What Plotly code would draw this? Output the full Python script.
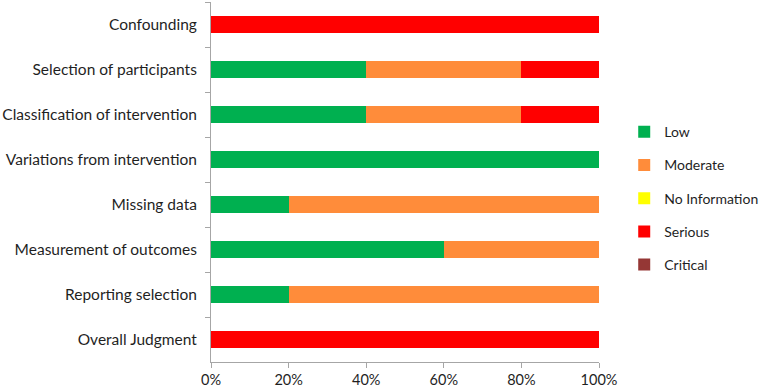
import plotly.graph_objects as go

categories = ["Confounding", "Selection of participants", "Classification of intervention",
              "Variations from intervention", "Missing data", "Measurement of outcomes",
              "Reporting selection", "Overall Judgment"]
low = [0, 40, 40, 100, 20, 60, 20, 0]
moderate = [0, 40, 40, 0, 80, 40, 80, 0]
no_info = [0, 0, 0, 0, 0, 0, 0, 0]
serious = [100, 20, 20, 0, 0, 0, 0, 100]
critical = [0, 0, 0, 0, 0, 0, 0, 0]
x_ticks = [0, 20, 40, 60, 80, 100]
x_tick_labels = ["0%", "20%", "40%", "60%", "80%", "100%"]

series = [("Low", low, "#00B050"), ("Moderate", moderate, "#FF8C3A"),
          ("No Information", no_info, "#FFFF00"), ("Serious", serious, "#FF0000"),
          ("Critical", critical, "#953735")]

fig = go.Figure()
for name, vals, color in series:
    fig.add_trace(go.Bar(y=categories, x=vals, name=name, orientation="h",
                         marker=dict(color=color, line=dict(width=0)),
                         legendgroup=name, width=0.38))

font = "Lato, 'Open Sans', sans-serif"
fig.update_layout(
    barmode="stack",
    width=762, height=390,
    margin=dict(l=211, r=163, t=2, b=28, autoexpand=False),
    plot_bgcolor="white", paper_bgcolor="white",
    font=dict(family=font, size=15.5, color="#1f1f1f"),
    showlegend=True,
    legend=dict(x=1.065, y=0.455, xanchor="left", yanchor="middle",
                traceorder="grouped", tracegroupgap=12,
                font=dict(size=14), itemwidth=30),
    xaxis=dict(range=[0, 100], tickvals=x_ticks, ticktext=x_tick_labels,
               showgrid=False, zeroline=False, showline=True, linecolor="#A6A6A6",
               ticks="outside", ticklen=5, tickcolor="#A6A6A6", fixedrange=True,
               tickfont=dict(size=14.5), automargin=False),
    yaxis=dict(categoryorder="array", categoryarray=categories, autorange="reversed",
               showgrid=False, showline=True, linecolor="#A6A6A6",
               ticks="outside", tickson="boundaries", ticklen=5, tickcolor="#A6A6A6",
               ticklabelstandoff=10, automargin=False, fixedrange=True),
)
fig.write_html("out.html", config={"displayModeBar": False},
               post_script="document.body.style.margin='0';document.body.style.overflow='hidden';")
